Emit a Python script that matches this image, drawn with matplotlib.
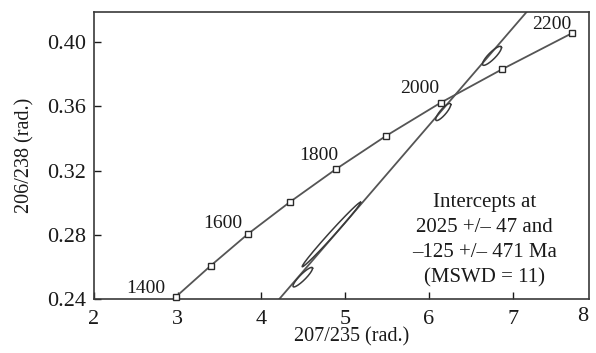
import matplotlib

matplotlib.use("Agg")
import matplotlib.pyplot as plt
import matplotlib.transforms as mtransforms
import numpy as np

plt.rcParams["font.family"] = ["Liberation Serif", "DejaVu Serif"]

# concordia ages (Ma) and their ratio positions
ages = [1400, 1500, 1600, 1700, 1800, 1900, 2000, 2100, 2200]
conc_x = [2.979, 3.393, 3.843, 4.344, 4.886, 5.487, 6.140, 6.872, 7.704]
conc_y = [0.2414, 0.2607, 0.2807, 0.3006, 0.3208, 0.3416, 0.3623, 0.3831, 0.4055]
labelled = [1400, 1600, 1800, 2000, 2200]

# discordia: two points read where it meets the frame
disc_x = [4.213, 7.134]
disc_y = [0.240, 0.4169]

# error ellipses: centre, half-axes and correlation
ell_x = [4.493, 4.835, 6.170, 6.752]
ell_y = [0.2536, 0.2802, 0.3565, 0.3915]
ell_sx = [0.1168, 0.3492, 0.0898, 0.1136]
ell_sy = [0.00609, 0.02011, 0.00534, 0.00593]
ell_rho = [0.907, 0.9933, 0.859, 0.866]

xticks = [2, 3, 4, 5, 6, 7]
yticks = [0.24, 0.28, 0.32, 0.36, 0.40]

note = "Intercepts at\n2025 +/\u2013 47 and\n\u2013125 +/\u2013 471 Ma\n(MSWD = 11)"

# label nudges in points (dx, dy) relative to each marker
label_off = {1400: (-8, 0), 1600: (-4, 1.5), 1800: (2, 4), 2000: (-1, 4), 2200: (0, 0)}

fig = plt.figure(figsize=(5.96, 3.53), dpi=100)
ax = fig.add_axes([0.1577, 0.153, 0.8306, 0.813])

line_c = "#555555"
ax.axline((disc_x[0], disc_y[0]), (disc_x[1], disc_y[1]), color=line_c, lw=1.3, zorder=2)
ax.plot(conc_x, conc_y, color=line_c, lw=1.3, zorder=2)

t = np.linspace(0, 2 * np.pi, 300)
for cx, cy, sx, sy, r in zip(ell_x, ell_y, ell_sx, ell_sy, ell_rho):
    cov = np.array([[sx * sx, r * sx * sy], [r * sx * sy, sy * sy]])
    L = np.linalg.cholesky(cov)
    pts = L @ np.vstack([np.cos(t), np.sin(t)])
    ax.plot(cx + pts[0], cy + pts[1], color="#3a3a3a", lw=1.1, zorder=3)

ax.plot(conc_x, conc_y, "s", ms=4.5, mfc="white", mec="#2a2a2a", mew=1.0,
        ls="none", zorder=4, clip_on=False)

for a, x, y in zip(ages, conc_x, conc_y):
    if a in labelled:
        dx, dy = label_off[a]
        ax.annotate(str(a), (x, y), xytext=(dx, dy), textcoords="offset points",
                    ha="right", va="bottom", fontsize=14, color="#1a1a1a")

ax.text(0.789, 0.205, note, transform=ax.transAxes, ha="center", va="center",
        fontsize=15, color="#1a1a1a", linespacing=1.42)

ax.set_xlim(2, 7.911)
ax.set_ylim(0.24, 0.4188)
ax.set_xticks(xticks)
ax.set_yticks(yticks)
ax.set_xticklabels([str(v) for v in xticks])
ax.set_yticklabels([f"{v:.2f}" for v in yticks])
ax.tick_params(direction="in", length=5, width=1, labelsize=16, colors="#1a1a1a")
ax.tick_params(axis="x", pad=8)
ax.tick_params(axis="y", pad=6)

# the "8" label sits at the right edge of the frame without a tick
trans = mtransforms.blended_transform_factory(ax.transAxes, ax.transAxes)
ax.text(0.988, -0.028, "8", transform=trans, ha="center", va="top",
        fontsize=16, color="#1a1a1a")

ax.set_xlabel("207/235 (rad.)", fontsize=14.5, color="#1a1a1a")
ax.set_ylabel("206/238 (rad.)", fontsize=14.5, color="#1a1a1a")
ax.xaxis.set_label_coords(0.52, -0.1)
ax.yaxis.set_label_coords(-0.12, 0.5)

for s in ax.spines.values():
    s.set_color("#3a3a3a")
    s.set_linewidth(1.2)

plt.savefig("out.png", dpi=100)
